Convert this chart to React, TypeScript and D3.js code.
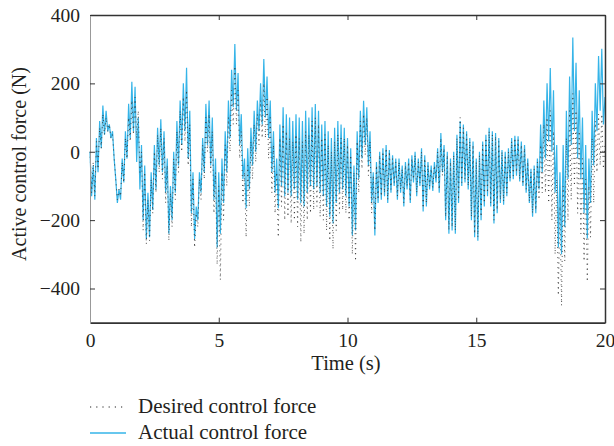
import React, { useEffect, useRef } from 'react'
import * as d3 from 'd3'

// sampling interval of both force records (s)
const sampleStep = 1 / 16

// actual control force (N), one row per second
const actualForce: number[] = [
  0, -130, -40, -140, 40, -60, 90, 10, 135, 50, 120, 60, 80, 40, 60, -20,
  -80, -150, -110, -140, -20, -90, 60, -20, 140, 40, 205, 60, 190, -30, 100, -110,
  20, -200, -40, -255, -120, -250, -60, -170, 20, -110, 70, -40, 95, -60, 60, -120,
  -20, -240, -100, -200, 0, -120, 90, -40, 150, 20, 200, 60, 246, -20, 120, -180,
  -60, -255, -160, -200, -60, -120, 40, -60, 140, 20, 150, -40, 100, -140, -20, -280,
  -60, -240, -20, -150, 60, -60, 150, 40, 240, 130, 315, 120, 230, 20, 110, -80,
  -20, -165, 10, -110, 70, -40, 120, 0, 150, 60, 200, 80, 271, 100, 220, 40,
  150, -60, 60, -120, -20, -165, 80, -100, 130, -130, 110, -120, 100, -130, 90, -110,
  110, -140, 100, -150, 90, -160, 120, -120, 100, -100, 130, -110, 140, -100, 120, -120,
  80, -130, 90, -160, 60, -190, 40, -210, 70, -150, 90, -120, 80, -110, 70, -130,
  40, -160, 10, -245, -40, -230, 60, -80, 120, -20, 149, 20, 130, -40, 60, -150,
  -60, -245, -30, -150, 0, -140, 10, -130, 20, -150, 5, -120, -10, -100, -20, -140,
  -20, -120, -40, -160, -30, -110, -20, -150, -10, -90, 0, -130, -20, -100, 10, -175,
  -10, -160, -30, -110, -40, -115, -30, -90, 10, -120, 55, -60, 20, -200, 0, -240,
  -20, -230, 0, -240, 50, -150, 90, -100, 80, -90, 60, -110, 40, -200, 30, -250,
  -20, -260, 0, -200, 30, -160, 50, -130, 70, -160, 60, -210, 55, -180, 40, -150,
  5, -155, 0, -130, 10, -87, 40, -80, 47, -70, 45, -87, 30, -100, 20, -120,
  -20, -150, -50, -190, -40, -180, -20, -110, 80, -60, 150, -20, 200, 30, 245, 0,
  180, -120, 20, -280, -60, -300, 20, -220, 120, -80, 220, 20, 334, 60, 260, -20,
  180, -80, 100, -180, 20, -254, -20, -150, 120, -40, 200, 60, 280, 120, 301, 80,
  160
]

// desired control force (N), one row per second
const desiredForce: number[] = [
  0, -120, -30, -130, 30, -50, 70, 10, 110, 50, 100, 60, 80, 40, 50, -20,
  -80, -140, -110, -130, -30, -90, 40, -20, 100, 30, 150, 50, 160, 40, 120, -60,
  0, -230, -60, -270, -140, -260, -80, -180, 0, -120, 50, -60, 70, -80, 40, -150,
  -40, -260, -120, -220, -20, -140, 60, -60, 120, 0, 160, 30, 180, -40, 80, -220,
  -80, -280, -180, -220, -80, -140, 20, -80, 100, 0, 110, -60, 60, -180, -60, -330,
  -100, -375, -60, -200, 20, -100, 100, 0, 180, 80, 250, 80, 180, -20, 60, -150,
  -60, -250, -40, -160, 30, -80, 80, -30, 110, 20, 150, 40, 200, 40, 160, -20,
  100, -120, 20, -180, -60, -250, 40, -160, 80, -200, 60, -190, 40, -210, 30, -200,
  50, -220, 40, -265, 30, -240, 60, -200, 50, -180, 90, -170, 100, -160, 80, -190,
  40, -200, 50, -230, 20, -260, 0, -285, 30, -230, 50, -180, 40, -170, 40, -180,
  20, -200, -10, -300, -60, -320, 30, -120, 90, -50, 110, -10, 100, -70, 30, -180,
  -70, -230, -40, -140, -10, -130, 0, -120, 10, -140, 0, -110, -20, -90, -30, -130,
  -30, -110, -50, -150, -40, -100, -30, -140, -20, -80, -10, -120, -30, -90, 0, -165,
  -20, -150, -40, -100, -50, -105, -40, -80, 0, -110, 40, -70, 10, -190, -10, -230,
  -30, -220, -10, -230, 40, -140, 100, -90, 70, -80, 50, -100, 30, -190, 20, -240,
  -30, -250, -10, -190, 20, -150, 40, -120, 60, -150, 50, -200, 45, -170, 30, -140,
  0, -145, -10, -120, 0, -80, 30, -70, 40, -60, 35, -80, 20, -95, 10, -110,
  -30, -145, -60, -180, -50, -170, -30, -140, 20, -120, 80, -120, 100, -150, 120, -200,
  60, -300, -80, -420, -160, -450, -100, -320, 40, -200, 120, -140, 170, -100, 120, -180,
  60, -240, -20, -320, -80, -380, -100, -250, 40, -150, 90, -60, 110, -40, 110, -50,
  20
]

const timeTicks = [0, 5, 10, 15, 20]
const forceTicks = [-400, -200, 0, 200, 400]
const legendLabels = ['Desired control force', 'Actual control force']

const FONT = '"Liberation Serif", "Times New Roman", serif'
const TEXT = '#231f20'
const BLUE = '#35b4e8'

function App () {
  const ref = useRef<SVGSVGElement>(null)

  useEffect(() => {
    const svg = d3.select(ref.current)
    svg.selectAll('*').remove()

    const left = 90
    const right = 605
    const top = 15
    const bottom = 322.7

    const x = d3.scaleLinear().domain([0, 20]).range([left, right])
    const y = d3.scaleLinear().domain([-500, 400]).range([bottom, top])

    const line = d3.line<number>()
      .x((d, i) => x(i * sampleStep))
      .y(d => y(d))

    // actual first, desired dots drawn over it
    svg.append('path')
      .datum(actualForce)
      .attr('fill', 'none')
      .attr('stroke', BLUE)
      .attr('stroke-width', 1.2)
      .attr('d', line)

    svg.append('path')
      .datum(desiredForce)
      .attr('fill', 'none')
      .attr('stroke', '#333')
      .attr('stroke-width', 0.9)
      .attr('stroke-dasharray', '1,4')
      .attr('d', line)

    // frame: inward ticks on all four sides
    const noLabel = () => ''
    const gTop = svg.append('g').attr('transform', `translate(0,${top})`)
      .call(d3.axisTop(x).tickValues(timeTicks).tickSizeInner(-5).tickSizeOuter(0).tickFormat(noLabel))
    const gRight = svg.append('g').attr('transform', `translate(${right},0)`)
      .call(d3.axisRight(y).tickValues(forceTicks).tickSizeInner(-5).tickSizeOuter(0).tickFormat(noLabel))
    const gBottom = svg.append('g').attr('transform', `translate(0,${bottom})`)
      .call(d3.axisBottom(x).tickValues(timeTicks).tickSizeInner(-5).tickSizeOuter(0).tickPadding(10.5))
    const gLeft = svg.append('g').attr('transform', `translate(${left},0)`)
      .call(d3.axisLeft(y).tickValues(forceTicks).tickSizeInner(-5).tickSizeOuter(0).tickPadding(10)
        .tickFormat(d => (+d < 0 ? '\u2212' + Math.abs(+d) : String(d))))

    for (const g of [gTop, gRight, gBottom, gLeft]) {
      g.selectAll('.tick line').attr('stroke', '#333')
      g.selectAll('text')
        .attr('font-family', FONT)
        .attr('font-size', 19.5)
        .attr('fill', TEXT)
    }
    gTop.select('.domain').attr('stroke', '#333').attr('stroke-width', 1.5)
    gRight.select('.domain').attr('stroke', '#333').attr('stroke-width', 1.5)
    gBottom.select('.domain').attr('stroke', '#333').attr('stroke-width', 1.8)
    gLeft.select('.domain').attr('stroke', '#999').attr('stroke-width', 1)

    svg.append('text')
      .attr('x', 346)
      .attr('y', 370)
      .attr('text-anchor', 'middle')
      .attr('font-family', FONT)
      .attr('font-size', 20.5)
      .attr('fill', TEXT)
      .text('Time (s)')

    svg.append('text')
      .attr('transform', 'translate(26,164) rotate(-90)')
      .attr('text-anchor', 'middle')
      .attr('font-family', FONT)
      .attr('font-size', 20)
      .attr('fill', TEXT)
      .text('Active control force (N)')

    // legend
    const legend = svg.append('g')
    legendLabels.forEach((label, i) => {
      const ly = 407 + i * 26
      legend.append('line')
        .attr('x1', 90)
        .attr('x2', 126)
        .attr('y1', ly)
        .attr('y2', ly)
        .attr('stroke', i === 0 ? '#222' : BLUE)
        .attr('stroke-width', i === 0 ? 1.2 : 1.5)
        .attr('stroke-dasharray', i === 0 ? '1.2,5' : null)
      legend.append('text')
        .attr('x', 138)
        .attr('y', ly + 6)
        .attr('font-family', FONT)
        .attr('font-size', 21)
        .attr('fill', TEXT)
        .text(label)
    })
  }, [])

  return (
    <svg
      ref={ref}
      width={614}
      height={446}
      style={{ position: 'absolute', left: 0, top: 0, background: '#fff' }}
    />
  )
}

export default App
